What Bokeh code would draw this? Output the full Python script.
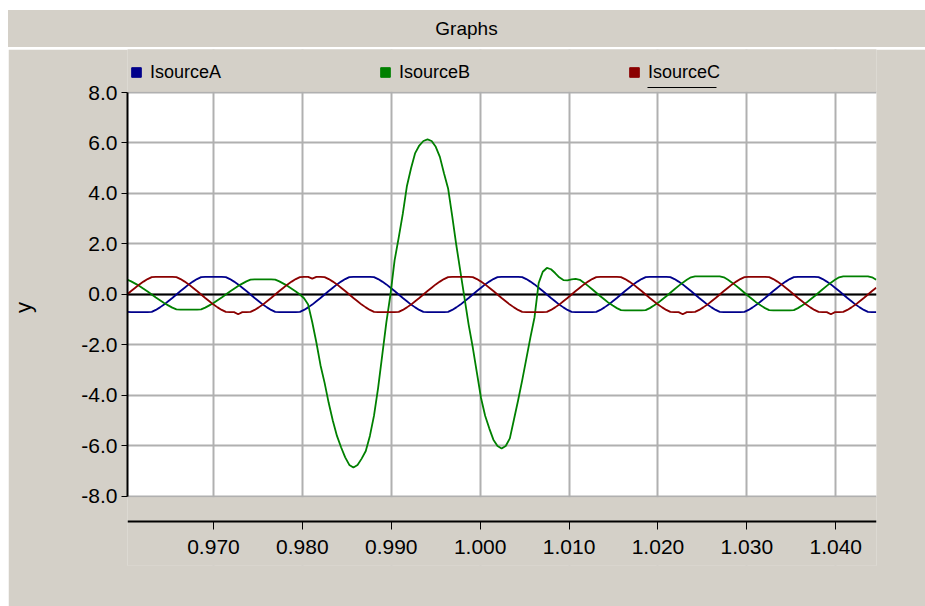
import numpy as np
from bokeh.plotting import figure
from bokeh.models import (Range1d, FixedTicker, NumeralTickFormatter, Span, BoxAnnotation,
                          Legend, LegendItem, Spacer, Div)
from bokeh.core.properties import value
from bokeh.layouts import column, row
from bokeh.embed import file_html
from bokeh.resources import INLINE

# ---------------- data ----------------
t_start = 0.960278          # time of first sample (s)
t_step = 0.000463           # sample spacing (s)

x_ticks = [0.970, 0.980, 0.990, 1.000, 1.010, 1.020, 1.030, 1.040]
y_ticks = [-8.0, -6.0, -4.0, -2.0, 0.0, 2.0, 4.0, 6.0, 8.0]
series_names = ["IsourceA", "IsourceB", "IsourceC"]

isource_a = [
    -0.69, -0.70, -0.70, -0.70, -0.70, -0.70, -0.69, -0.61, -0.51, -0.40, -0.27, -0.14, 0.00, 0.14, 0.27, 0.40, 0.51, 0.61, 0.69, 0.70, 0.70,
    0.70, 0.70, 0.70, 0.69, 0.61, 0.51, 0.40, 0.27, 0.14, 0.00, -0.14, -0.27, -0.40, -0.51, -0.61, -0.69, -0.70, -0.70, -0.70, -0.70, -0.70, -0.69, -0.61, -0.51, -0.40, -0.27, -0.14, 0.00, 0.14, 0.27, 0.40, 0.51, 0.61, 0.69, 0.70, 0.70,
    0.70, 0.70, 0.70, 0.69, 0.61, 0.51, 0.40, 0.27, 0.14, 0.00, -0.14, -0.27, -0.40, -0.51, -0.61, -0.69, -0.70, -0.70, -0.70, -0.70, -0.70, -0.69, -0.61, -0.51, -0.40, -0.27, -0.14, 0.00, 0.14, 0.27, 0.40, 0.51, 0.61, 0.69, 0.70, 0.70,
    0.70, 0.70, 0.70, 0.69, 0.61, 0.51, 0.40, 0.27, 0.14, 0.00, -0.14, -0.27, -0.40, -0.51, -0.61, -0.69, -0.70, -0.70, -0.70, -0.70, -0.70, -0.69, -0.61, -0.51, -0.40, -0.27, -0.14, 0.00, 0.14, 0.27, 0.40, 0.51, 0.61, 0.69, 0.70, 0.70,
    0.70, 0.70, 0.70, 0.69, 0.61, 0.51, 0.40, 0.27, 0.14, 0.00, -0.14, -0.27, -0.40, -0.51, -0.61, -0.69, -0.70, -0.70, -0.70, -0.70, -0.70, -0.69, -0.61, -0.51, -0.40, -0.27, -0.14, 0.00, 0.14, 0.27, 0.40, 0.51, 0.61, 0.69, 0.70, 0.70,
    0.70, 0.70, 0.70, 0.69, 0.61, 0.51, 0.40, 0.27, 0.14, 0.00, -0.14, -0.27, -0.40, -0.51, -0.61, -0.69, -0.70, -0.70,
]

isource_b = [
    0.59, 0.52, 0.43, 0.34, 0.23, 0.12, 0.00, -0.12, -0.23, -0.34, -0.43, -0.52, -0.59, -0.60, -0.60, -0.60, -0.60, -0.60, -0.59, -0.52, -0.43,
    -0.34, -0.23, -0.12, 0.00, 0.12, 0.23, 0.34, 0.43, 0.52, 0.59, 0.60, 0.60, 0.60, 0.60, 0.60, 0.59, 0.52, 0.43, 0.34, 0.23, 0.12, 0.00,
    -0.15, -0.40, -1.10, -1.90, -2.80, -3.50, -4.30, -5.00, -5.60, -6.05,
    -6.45, -6.75, -6.85, -6.75, -6.50, -6.20, -5.60, -4.80, -3.70, -2.40,
    -1.10, 0.00, 1.35, 2.25, 3.20, 4.30, 5.00, 5.60, 5.90, 6.08,
    6.14, 6.08, 5.85, 5.45, 4.80, 4.20, 3.10, 1.95, 0.90, -0.15,
    -1.20, -2.10, -3.10, -4.10, -4.80, -5.30, -5.75, -6.00, -6.10, -6.00,
    -5.70, -4.95, -4.20, -3.40, -2.55, -1.70, -0.90, 0.45, 0.90, 1.05,
    1.00, 0.85, 0.68, 0.57, 0.56, 0.60, 0.62,
    0.58, 0.47, 0.34, 0.21, 0.07, -0.07, -0.20, -0.33, -0.44, -0.54, -0.62, -0.63, -0.63, -0.63, -0.63, -0.63, -0.62, -0.54, -0.44, -0.33, -0.20, -0.07, 0.07, 0.21, 0.34, 0.47, 0.58, 0.68, 0.72, 0.72, 0.72,
    0.72, 0.72, 0.72, 0.72, 0.68, 0.58, 0.47, 0.34, 0.21, 0.07, -0.07, -0.20, -0.33, -0.44, -0.54, -0.62, -0.63, -0.63, -0.63, -0.63, -0.63, -0.62, -0.54, -0.44, -0.33, -0.20, -0.07, 0.07, 0.21, 0.34, 0.47, 0.58, 0.68, 0.72, 0.72, 0.72,
    0.72, 0.72, 0.72, 0.72, 0.68, 0.58,
]

isource_c = [
    0.00, 0.14, 0.27, 0.40, 0.51, 0.61, 0.69, 0.70, 0.70,
    0.70, 0.70, 0.70, 0.69, 0.61, 0.51, 0.40, 0.27, 0.14, 0.00, -0.14, -0.27, -0.40, -0.51, -0.61, -0.69, -0.70, -0.70, -0.78, -0.70, -0.70, -0.69, -0.61, -0.51, -0.40, -0.27, -0.14, 0.00, 0.14, 0.27, 0.40, 0.51, 0.61, 0.69, 0.70, 0.70,
    0.63, 0.70, 0.70, 0.69, 0.61, 0.51, 0.40, 0.27, 0.14, 0.00, -0.14, -0.27, -0.40, -0.51, -0.61, -0.69, -0.70, -0.70, -0.70, -0.70, -0.70, -0.69, -0.61, -0.51, -0.40, -0.27, -0.14, 0.00, 0.14, 0.27, 0.40, 0.51, 0.61, 0.69, 0.70, 0.70,
    0.70, 0.70, 0.70, 0.69, 0.61, 0.51, 0.40, 0.27, 0.14, 0.00, -0.14, -0.27, -0.40, -0.51, -0.61, -0.69, -0.70, -0.70, -0.70, -0.70, -0.70, -0.69, -0.61, -0.51, -0.40, -0.27, -0.14, 0.00, 0.14, 0.27, 0.40, 0.51, 0.61, 0.69, 0.70, 0.70,
    0.70, 0.70, 0.70, 0.69, 0.61, 0.51, 0.40, 0.27, 0.14, 0.00, -0.14, -0.27, -0.40, -0.51, -0.61, -0.69, -0.70, -0.70, -0.78, -0.70, -0.70, -0.69, -0.61, -0.51, -0.40, -0.27, -0.14, 0.00, 0.14, 0.27, 0.40, 0.51, 0.61, 0.69, 0.70, 0.70,
    0.70, 0.70, 0.70, 0.69, 0.61, 0.51, 0.40, 0.27, 0.14, 0.00, -0.14, -0.27, -0.40, -0.51, -0.61, -0.69, -0.70, -0.70, -0.78, -0.70, -0.70, -0.69, -0.61, -0.51, -0.40, -0.27, -0.14, 0.00, 0.14, 0.27,
]

# ---------------- styling ----------------
FONT = "'Liberation Sans Narrow', 'Arial Narrow', 'Liberation Sans', Arial, sans-serif"
BG = "#d4d0c8"
colors = ["#00008b", "#008000", "#8b0000"]

# the frame spans the legend row above and the detached x axis below;
# only the -8..8 window is painted white
Y_TOP, Y_BOTTOM = 9.703, -10.733
X_AXIS_AT = -8.99

p = figure(width=917, height=557, output_backend="svg", toolbar_location=None,
           x_range=Range1d(0.96033, 1.04458), y_range=Range1d(Y_BOTTOM, Y_TOP),
           min_border_left=119, min_border_right=49, min_border_top=0, min_border_bottom=41,
           background_fill_color=BG, border_fill_color=BG, outline_line_color=None)

# white plotting window
p.add_layout(BoxAnnotation(bottom=-8.0, top=8.0, fill_color="white", fill_alpha=1.0,
                           line_color=None, level="image"))

# axes
xa = p.xaxis[0]
xa.fixed_location = X_AXIS_AT
xa.ticker = FixedTicker(ticks=x_ticks)
xa.formatter = NumeralTickFormatter(format="0.000")
xa.axis_line_color = "black"
xa.axis_line_width = 2
xa.major_tick_line_color = "black"
xa.major_tick_out = 8
xa.major_tick_in = 0
xa.minor_tick_line_color = None
xa.major_label_text_font = FONT
xa.major_label_text_font_size = "21px"
xa.major_label_text_color = "black"
xa.major_label_standoff = 11

ya = p.yaxis[0]
ya.ticker = FixedTicker(ticks=y_ticks)
ya.formatter = NumeralTickFormatter(format="0.0")
ya.bounds = (-8.0, 8.0)
ya.axis_line_color = "black"
ya.axis_line_width = 2
ya.major_tick_line_color = "black"
ya.major_tick_out = 6
ya.major_tick_in = 0
ya.minor_tick_line_color = None
ya.major_label_text_font = FONT
ya.major_label_text_font_size = "21px"
ya.major_label_text_color = "black"
ya.major_label_standoff = 4
ya.axis_label = "y"
ya.axis_label_text_font = FONT
ya.axis_label_text_font_size = "22px"
ya.axis_label_text_font_style = "normal"
ya.axis_label_text_color = "black"
ya.axis_label_standoff = 42

# grid
p.xgrid.ticker = FixedTicker(ticks=x_ticks)
p.ygrid.ticker = FixedTicker(ticks=y_ticks)
for g in (p.xgrid[0], p.ygrid[0]):
    g.grid_line_color = "#b0b0b0"
    g.grid_line_width = 2

# grey strips that hide the grid outside the -8..8 window
p.add_layout(BoxAnnotation(bottom=-12.0, top=-8.03, fill_color=BG, fill_alpha=1.0,
                           line_color=None, level="glyph"))
p.add_layout(BoxAnnotation(bottom=8.03, top=12.0, fill_color=BG, fill_alpha=1.0,
                           line_color=None, level="glyph"))

# zero line
p.add_layout(Span(location=0, dimension="width", line_color="black", line_width=2, level="underlay"))

# series
series = [isource_a, isource_b, isource_c]
for vals, col in zip(series, colors):
    t = t_start + t_step * np.arange(len(vals))
    p.line(t, vals, line_color=col, line_width=1.8)

# legend: one entry each, in the grey row above the plotting window
legend_x = [-3, 246, 495]
for name, col, vals, lx in zip(series_names, colors, series, legend_x):
    proxy = p.scatter(x=[t_start], y=[vals[0]], marker="square", size=9,
                      fill_color=col, line_color=col, visible=False)
    lg = Legend(items=[LegendItem(label=value(name), renderers=[proxy])],
                location=(lx, 481), orientation="horizontal",
                background_fill_alpha=0, border_line_alpha=0, padding=0, margin=0, spacing=0,
                glyph_width=24, glyph_height=24, label_standoff=2, label_height=24,
                inactive_fill_alpha=0,
                label_text_font=FONT, label_text_font_size="18px", label_text_color="black")
    p.add_layout(lg)

# underline of the selected legend entry (IsourceC)
p.add_layout(BoxAnnotation(left=1.01882, right=1.02658, bottom=8.178, top=8.218,
                           fill_color="black", fill_alpha=1.0, line_color=None, level="annotation"))

# title bar
title_div = Div(text="Graphs", width=917, height=37, margin=0,
                styles={"background-color": BG, "text-align": "center", "font-family": FONT,
                        "font-size": "19px", "line-height": "37px", "color": "black"})
sep_div = Div(text="", width=917, height=2, margin=0, styles={"background-color": "white"})

layout = column(Spacer(width=925, height=10, margin=0),
                row(Spacer(width=8, height=596, margin=0), column(title_div, sep_div, p)))
open("out.html", "w").write(file_html(layout, INLINE))
